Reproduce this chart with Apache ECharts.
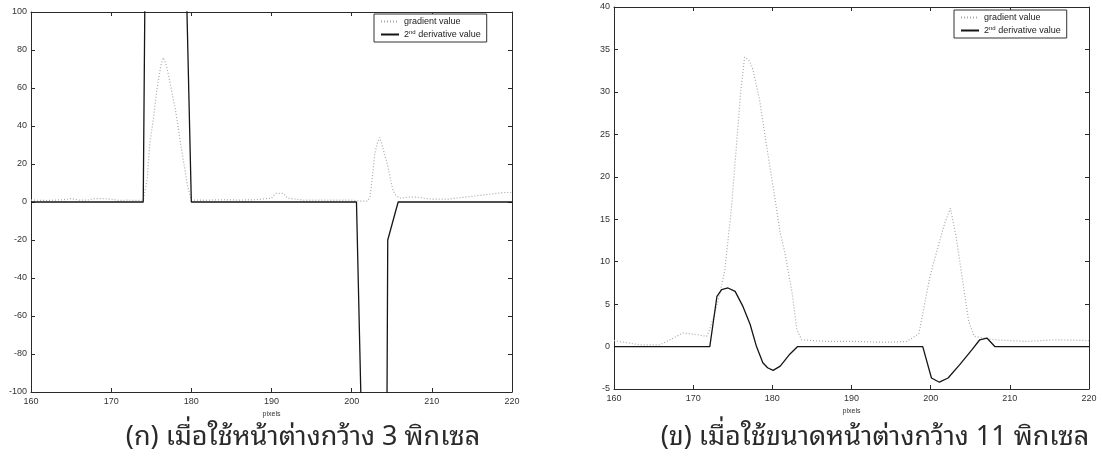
<!DOCTYPE html>
<html>
<head>
<meta charset="utf-8">
<script src="https://cdn.jsdelivr.net/npm/echarts@6/dist/echarts.min.js"></script>
<style>
html,body{margin:0;padding:0;background:#fff;}
#c{width:1102px;height:458px;}
</style>
</head>
<body>
<div id="c"></div>
<script>
// ---------- data ----------
const seriesNames = ['gradient value', '2nd derivative value'];
const xTicksLabel = 'pixels';
const captions = ['(ก) เมื่อใช้หน้าต่างกว้าง 3 พิกเซล', '(ข) เมื่อใช้ขนาดหน้าต่างกว้าง 11 พิกเซล'];

// (a) window 3 px
const leftGradX = [160,162,164,165,166,167,168,169,170,171,172,173,174,174.5,174.8,175.3,175.7,176.2,176.5,176.8,177.2,177.6,178,178.4,178.8,179.2,179.5,180,182,184,186,188,190,190.5,191.5,192,194,196,198,200,201,202,202.3,202.6,202.9,203.2,203.5,203.8,204.1,204.4,204.8,205.1,205.4,206,207,208,209,210,211,212,213,214,215,216,217,218,219,220];
const leftGradY = [1,0.8,1.2,1.8,1,1,1.8,1.8,1.5,0.8,1,0.8,1,12,30,45,59,72,76,73,66,57,49,38,27,17,9,1,1,1.2,1,1.2,2,4.5,4.5,2,1,1,1,1,0.5,0.5,3,14,26,31,34,30,25,21,13,7,4,2,2.5,2.6,2,1.5,1.5,1.5,2,2.5,3,3.5,4,4.5,5,5];
const leftDerivX = [160,174,174.25,177,179.4,180,200.6,201.3,203,204.4,204.5,205.8,220];
const leftDerivY = [0,0,130,400,110,0,0,-130,-400,-110,-20,0,0];

// (b) window 11 px
const rightGradX = [160,162,163.3,165.8,167.5,168.7,170.5,171.7,172,172.6,173.3,174,174.8,175.5,176,176.5,177,177.5,178.4,179.3,180.1,181,181.6,182.5,183.1,183.7,186.9,190.7,194,197,198.5,199.9,201,201.8,202.5,203.2,204,204.8,205.5,208,212,216,220];
const rightGradY = [0.7,0.4,0.2,0.2,1.0,1.6,1.4,1.2,1.8,3.5,6,9,16,24,30,34.1,33.8,32.8,29,23.5,18.8,13.4,11,6.3,2,0.8,0.6,0.6,0.5,0.6,1.5,8.2,12,14.6,16.3,13,8,3,1.2,0.8,0.6,0.8,0.7];
const rightDerivX = [160,172.1,173,173.6,174.4,175.3,176.3,177.2,178,178.8,179.4,180.1,181,182.2,183.2,199,200.1,201.1,202.2,203.7,205.2,206.2,207.1,208.1,220];
const rightDerivY = [0,0,5.9,6.7,6.9,6.5,4.7,2.6,0,-1.9,-2.5,-2.8,-2.3,-0.9,0,0,-3.7,-4.2,-3.7,-2.1,-0.4,0.8,1.0,0,0];

const xMin = 160, xMax = 220, xStep = 10;
const leftYMin = -100, leftYMax = 100, leftYStep = 20;
const rightYMin = -5, rightYMax = 40, rightYStep = 5;

// ---------- build chart ----------
const zip = (xs, ys) => xs.map((x, i) => [x, ys[i]]);
const FONT = '"Liberation Sans", Arial, Helvetica, sans-serif';
const THAI = '"Noto Sans Thai Looped", "Noto Sans Thai", Tahoma, "Noto Sans", "DejaVu Sans", sans-serif';
const AX = '#2a2a2a';

function xAxes(gi) {
  return [
    { gridIndex: gi, type: 'value', min: xMin, max: xMax, interval: xStep, position: 'bottom',
      name: xTicksLabel, nameLocation: 'middle', nameGap: 15,
      nameTextStyle: { fontSize: 7, color: '#333', fontFamily: FONT },
      axisLine: { show: true, onZero: false, lineStyle: { color: AX, width: 1 } },
      axisTick: { show: true, inside: true, length: 4, lineStyle: { color: AX } },
      axisLabel: { fontSize: 9, color: '#333', fontFamily: FONT, margin: 5 },
      splitLine: { show: false } },
    { gridIndex: gi, type: 'value', min: xMin, max: xMax, interval: xStep, position: 'top',
      axisLine: { show: true, onZero: false, lineStyle: { color: AX, width: 1 } },
      axisTick: { show: true, inside: true, length: 4, lineStyle: { color: AX } },
      axisLabel: { show: false }, splitLine: { show: false } }
  ];
}
function yAxes(gi, mn, mx, st) {
  return [
    { gridIndex: gi, type: 'value', min: mn, max: mx, interval: st, position: 'left',
      axisLine: { show: true, onZero: false, lineStyle: { color: AX, width: 1 } },
      axisTick: { show: true, inside: true, length: 4, lineStyle: { color: AX } },
      axisLabel: { fontSize: 9, color: '#333', fontFamily: FONT, margin: 4 },
      splitLine: { show: false } },
    { gridIndex: gi, type: 'value', min: mn, max: mx, interval: st, position: 'right',
      axisLine: { show: true, onZero: false, lineStyle: { color: AX, width: 1 } },
      axisTick: { show: true, inside: true, length: 4, lineStyle: { color: AX } },
      axisLabel: { show: false }, splitLine: { show: false } }
  ];
}
function gradSeries(xi, yi, data) {
  return { name: seriesNames[0], type: 'line', xAxisIndex: xi, yAxisIndex: yi, data: data,
    showSymbol: false, symbol: 'none', clip: true, animation: false,
    lineStyle: { color: '#a8a8a8', width: 1.2, type: [1, 2] }, itemStyle: { color: '#a8a8a8' } };
}
function derivSeries(xi, yi, data) {
  return { name: seriesNames[1], type: 'line', xAxisIndex: xi, yAxisIndex: yi, data: data,
    showSymbol: false, symbol: 'none', clip: true, animation: false,
    lineStyle: { color: '#151515', width: 1.3 }, itemStyle: { color: '#151515' } };
}
function legendAt(left, top) {
  return { left: left, top: top, orient: 'vertical', data: seriesNames,
    itemWidth: 18, itemHeight: 6, itemGap: 3, padding: [3, 6, 3, 6],
    borderColor: '#333', borderWidth: 1, backgroundColor: '#fff',
    selectedMode: false,
    itemStyle: { opacity: 0 },
    textStyle: { fontSize: 9, color: '#222', fontFamily: FONT,
      rich: { a: { fontSize: 9, color: '#222', fontFamily: FONT },
              s: { fontSize: 6, color: '#222', fontFamily: FONT, padding: [0, 0, 5, 0] } } },
    formatter: function (n) {
      if (n === seriesNames[1]) return '{a|2}{s|nd}{a| derivative value}';
      return '{a|' + n + '}';
    } };
}

const chart = echarts.init(document.getElementById('c'), null, { renderer: 'canvas' });
chart.setOption({
  backgroundColor: '#fff',
  animation: false,
  grid: [
    { left: 31, top: 12, width: 481, height: 380 },
    { left: 614, top: 7, width: 475, height: 382 }
  ],
  xAxis: xAxes(0).concat(xAxes(1)),
  yAxis: yAxes(0, leftYMin, leftYMax, leftYStep).concat(yAxes(1, rightYMin, rightYMax, rightYStep)),
  legend: [legendAt(374, 14), legendAt(954, 10)],
  series: [
    gradSeries(0, 0, zip(leftGradX, leftGradY)),
    derivSeries(0, 0, zip(leftDerivX, leftDerivY)),
    gradSeries(2, 2, zip(rightGradX, rightGradY)),
    derivSeries(2, 2, zip(rightDerivX, rightDerivY))
  ],
  graphic: [
    { type: 'text', style: { text: captions[0], x: 303, y: 437, textAlign: 'center', textVerticalAlign: 'middle',
      fontSize: 27, fill: '#2a2a2a', fontFamily: THAI } },
    { type: 'text', style: { text: captions[1], x: 875, y: 437, textAlign: 'center', textVerticalAlign: 'middle',
      fontSize: 27, fill: '#2a2a2a', fontFamily: THAI } }
  ]
});
</script>
</body>
</html>
